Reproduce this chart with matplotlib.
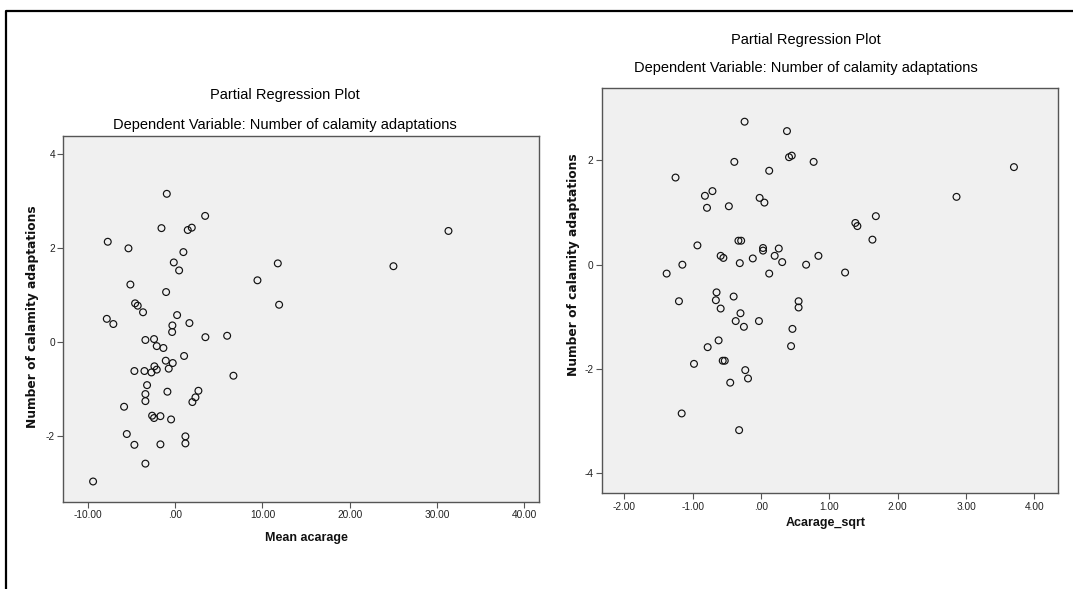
import matplotlib
matplotlib.use('Agg')
import matplotlib.pyplot as plt
from matplotlib.lines import Line2D

# left panel: Mean acarage vs residual of calamity adaptations
mean_acarage = [-0.95, 3.44, -1.56, 1.45, 1.91, -7.71, -5.34, 0.95, -0.15, 0.46,
                11.76, 9.43, 11.91, -5.12, -1.03, -4.58, -4.28, -3.67, -7.82, -7.07,
                0.23, 1.64, -0.31, -0.34, 3.47, 5.96, -3.40, -2.41, -2.10, -1.34,
                1.03, -1.07, -0.27, -2.37, -2.10, -0.73, -4.66, -3.51, -2.71, 6.68,
                -3.21, -3.40, -3.40, -0.88, 2.67, 2.33, 1.98, -5.84, -2.63, -2.41,
                -1.68, -0.46, -5.53, -4.66, -1.68, 1.18, 1.18, -3.40, -9.39, 31.3,
                25.0]
adapt_left = [3.15, 2.68, 2.42, 2.38, 2.43, 2.13, 1.99, 1.91, 1.69, 1.52,
              1.67, 1.31, 0.79, 1.22, 1.06, 0.82, 0.77, 0.63, 0.49, 0.38,
              0.57, 0.40, 0.35, 0.21, 0.10, 0.13, 0.04, 0.06, -0.09, -0.13,
              -0.30, -0.40, -0.45, -0.52, -0.59, -0.57, -0.62, -0.62, -0.65, -0.72,
              -0.92, -1.11, -1.26, -1.06, -1.04, -1.18, -1.28, -1.38, -1.57, -1.62,
              -1.58, -1.65, -1.96, -2.19, -2.18, -2.01, -2.16, -2.59, -2.97, 2.36,
              1.61]

# right panel: Acarage_sqrt
acarage_sqrt = [-0.24, 0.38, 0.41, 0.45, -0.39, 0.77, 0.12, -1.25, -0.82, -0.71,
                -0.79, -0.47, -0.02, 0.05, -0.93, -0.33, -0.29, 0.03, 0.03, 0.26,
                0.20, 0.84, -0.59, -0.55, -0.12, -1.15, -0.31, 0.31, 0.66, -1.38,
                0.12, 1.23, -1.20, -0.65, -0.66, -0.40, 0.55, 0.55, -0.59, -0.30,
                -0.37, -0.25, -0.03, 0.46, 0.44, -0.62, -0.78, -0.98, -0.56, -0.53,
                -0.23, -0.19, -0.45, -1.16, -0.32, 3.70, 2.86, 1.68, 1.38, 1.41,
                1.63]
adapt_right = [2.74, 2.56, 2.06, 2.09, 1.97, 1.97, 1.80, 1.67, 1.32, 1.41,
               1.09, 1.12, 1.28, 1.19, 0.37, 0.46, 0.46, 0.32, 0.27, 0.31,
               0.17, 0.17, 0.17, 0.13, 0.12, 0.00, 0.03, 0.05, 0.00, -0.17,
               -0.17, -0.15, -0.70, -0.53, -0.68, -0.61, -0.70, -0.82, -0.84, -0.93,
               -1.08, -1.19, -1.08, -1.23, -1.56, -1.45, -1.58, -1.90, -1.84, -1.84,
               -2.02, -2.18, -2.26, -2.85, -3.17, 1.87, 1.30, 0.93, 0.80, 0.74,
               0.48]

left_xticks = [-10, 0, 10, 20, 30, 40]
left_yticks = [-2, 0, 2, 4]
right_xticks = [-2, -1, 0, 1, 2, 3, 4]
right_yticks = [-4, -2, 0, 2]

title1 = 'Partial Regression Plot'
title2 = 'Dependent Variable: Number of calamity adaptations'
ylab = 'Number of calamity adaptations'

W, H = 1073, 589
fig = plt.figure(figsize=(W/100, H/100), dpi=100)

def fmt(v):
    s = '%.2f' % v
    if s.startswith('0'):
        s = s[1:]
    return s

def setup(ax, xt, yt):
    ax.set_facecolor('#f0f0f0')
    for sp in ax.spines.values():
        sp.set_color('#555555')
        sp.set_linewidth(1.0)
    ax.set_xticks(xt)
    ax.set_xticklabels([fmt(v) for v in xt], fontsize=7.3, family='Liberation Sans', color='#222222')
    ax.set_yticks(yt)
    ax.set_yticklabels([str(v) for v in yt], fontsize=7.3, family='Liberation Sans', color='#222222')
    ax.tick_params(direction='out', length=4, width=0.8, color='#555555', pad=2)

ax1 = fig.add_axes([63.3/W, 87.3/H, 476/W, 365.7/H])
ax1.scatter(mean_acarage, adapt_left, s=24, facecolors='none', edgecolors='#111111', linewidths=0.85)
ax1.set_xlim(-12.8, 41.7)
ax1.set_ylim(-3.40, 4.38)
setup(ax1, left_xticks, left_yticks)

ax2 = fig.add_axes([601.7/W, 95.7/H, 456/W, 405/H])
ax2.scatter(acarage_sqrt, adapt_right, s=24, facecolors='none', edgecolors='#111111', linewidths=0.85)
ax2.set_xlim(-2.33, 4.34)
ax2.set_ylim(-4.38, 3.38)
setup(ax2, right_xticks, right_yticks)

# titles and labels placed in pixel positions
def ftext(x, y, s, **kw):
    fig.text(x/W, 1 - y/H, s, ha='center', va='center', **kw)

ftext(285, 95, title1, fontsize=10.5, family='Liberation Sans', color='black')
ftext(285, 125, title2, fontsize=10.5, family='Liberation Sans', color='black')
ftext(806, 40, title1, fontsize=10.5, family='Liberation Sans', color='black')
ftext(806, 68, title2, fontsize=10.5, family='Liberation Sans', color='black')

ftext(306, 538, 'Mean acarage', fontsize=9, family='Liberation Sans', weight='bold', color='#111111')
ftext(826, 523, 'Acarage_sqrt', fontsize=9, family='Liberation Sans', weight='bold', color='#111111')
ftext(33, 317, ylab, fontsize=8.8, family='DejaVu Sans', weight='bold', rotation=90, color='#111111')
ftext(573, 265, ylab, fontsize=8.8, family='DejaVu Sans', weight='bold', rotation=90, color='#111111')

# outer frame (top and left visible)
fig.add_artist(Line2D([6/W, 6/W, 1.0], [0.0, 1 - 10.5/H, 1 - 10.5/H], color='black', linewidth=1.6))

plt.savefig('out.png', dpi=100)
